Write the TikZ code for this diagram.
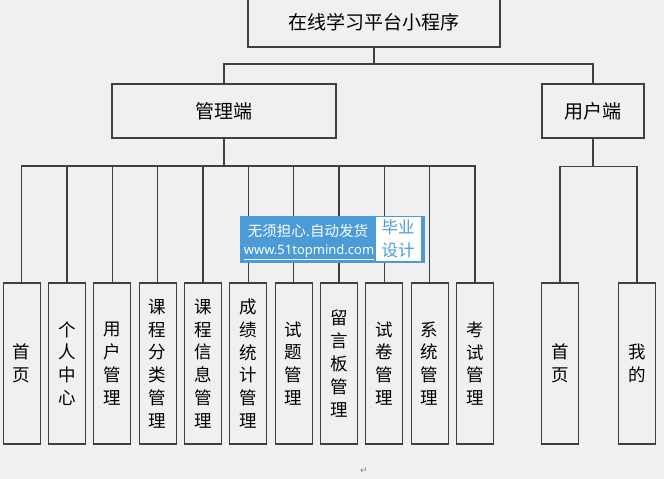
\documentclass[tikz,border=0pt]{standalone}
\usepackage{fontspec}
\setmainfont{Noto Sans CJK SC}
\newfontfamily\cjk{Noto Sans CJK SC}
\newfontfamily\wmsans{Noto Sans}
\newfontfamily\symfont{DejaVu Sans}
\definecolor{bg}{HTML}{F0F0F0}
\definecolor{ln}{HTML}{404040}
\definecolor{wmblue}{HTML}{4C9BD9}
\begin{document}
\begin{tikzpicture}[x=1pt,y=-1pt,
  box/.style={draw=ln,line width=1.1pt,fill=bg,inner sep=0pt,font=\cjk\fontsize{19}{22}\selectfont},
  vbox/.style={draw=ln,line width=1.1pt,fill=bg,inner sep=0pt,minimum width=37pt,minimum height=161pt,
    align=center,font=\cjk\fontsize{17.5}{22.8}\selectfont},
  conn/.style={draw=ln,line width=1.1pt}]
\useasboundingbox[fill=bg] (0,0) rectangle (664,479);
\node[box,minimum width=252pt,minimum height=49pt] (top) at (374,22.5) {在线学习平台小程序};
\node[box,minimum width=224pt,minimum height=54pt] (admin) at (224,111) {管理端};
\node[box,minimum width=102pt,minimum height=54pt] (user) at (593,111) {用户端};
\coordinate (tbus) at (374,64);
\coordinate (abus) at (224,166);
\coordinate (ubus) at (593,166.5);
\foreach \i/\t in {0/首\\页,1/个\\人\\中\\心,2/用\\户\\管\\理,3/课\\程\\分\\类\\管\\理,4/课\\程\\信\\息\\管\\理,
  5/成\\绩\\统\\计\\管\\理,6/试\\题\\管\\理,7/留\\言\\板\\管\\理,8/试\\卷\\管\\理,9/系\\统\\管\\理,10/考\\试\\管\\理}{
  \node[vbox] (a\i) at ({21.7+45.33*\i},363.5) {\t};
}
\node[vbox] (u0) at (560,363.5) {首\\页};
\node[vbox] (u1) at (637,363.5) {我\\的};
\draw[conn] (top) -- (tbus);
\draw[conn] (tbus) -| (admin.north);
\draw[conn] (tbus) -| (user.north);
\draw[conn] (admin) -- (abus);
\foreach \i in {0,...,10}{\draw[conn] (abus) -| (a\i.north);}
\draw[conn] (user) -- (ubus);
\draw[conn] (ubus) -| (u0.north);
\draw[conn] (ubus) -| (u1.north);
% watermark
\node[fill=wmblue,inner sep=0pt,minimum width=185pt,minimum height=46.5pt,anchor=north west] (wm) at (240,216) {};
\node[fill=white,inner sep=0pt,minimum width=44.5pt,minimum height=43.5pt,anchor=north west] (wmw) at (376,217.2) {};
\node[text=white,font=\cjk\fontsize{14.5}{16}\selectfont,anchor=center] (wm1) at (308,231) {无须担心.自动发货};
\node[text=white,font=\wmsans\fontsize{13}{15}\selectfont,anchor=center,inner sep=1pt] (wm2) at (309,252) {\underline{www.51topmind.com}};
\node[text=wmblue,font=\cjk\fontsize{16.5}{23}\selectfont,align=center,anchor=center] (wm3) at (398,239) {毕业\\设计};
\node[text=gray,font=\symfont\fontsize{9}{10}\selectfont] (ret) at (364,471) {↵};
\end{tikzpicture}
\end{document}
